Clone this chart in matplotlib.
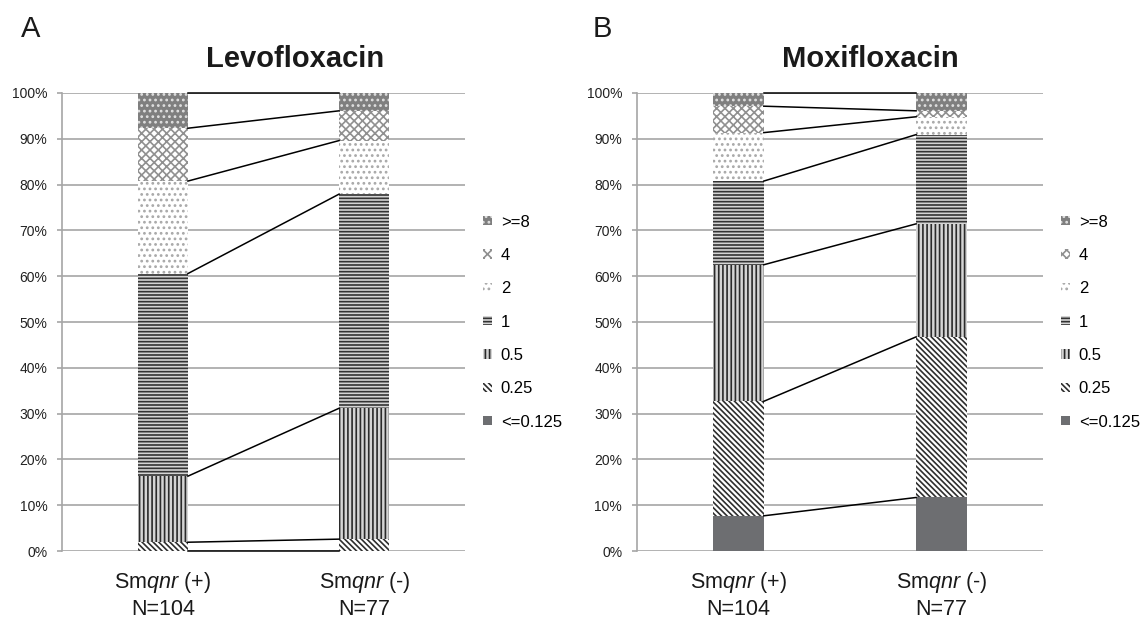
import matplotlib
matplotlib.use("Agg")
import matplotlib.pyplot as plt
import numpy as np

plt.rcParams['font.family'] = ['Liberation Sans', 'DejaVu Sans']
plt.rcParams['mathtext.fontset'] = 'custom'
plt.rcParams['mathtext.rm'] = 'Liberation Sans'
plt.rcParams['mathtext.it'] = 'Liberation Sans:italic'
plt.rcParams['hatch.linewidth'] = 1.2

# MIC categories, bottom to top
mic_levels = ['<=0.125', '0.25', '0.5', '1', '2', '4', '>=8']
group_labels = ['Sm$\\it{qnr}$ (+)\nN=104', 'Sm$\\it{qnr}$ (-)\nN=77']
group_n = [104, 77]

# isolate counts per MIC level
levo_pos = [0, 2, 15, 46, 21, 12, 8]
levo_neg = [0, 2, 22, 36, 9, 5, 3]
moxi_pos = [8, 26, 31, 19, 11, 6, 3]
moxi_neg = [9, 27, 19, 15, 3, 1, 3]

pct_ticks = [0, 10, 20, 30, 40, 50, 60, 70, 80, 90, 100]

styles = [
    dict(facecolor='#6d6e71', edgecolor='#6d6e71', hatch=None),
    dict(facecolor='white', edgecolor='#2e2e2e', hatch='\\\\\\\\\\\\'),
    dict(facecolor='#d4d4d4', edgecolor='#2a2a2a', hatch='||||'),
    dict(facecolor='#d4d4d4', edgecolor='#333333', hatch='-----'),
    dict(facecolor='white', edgecolor='#a8a8a8', hatch='...'),
    dict(facecolor='white', edgecolor='#909090', hatch='xxxx'),
    dict(facecolor='#7f7f7f', edgecolor='#e0e0e0', hatch='...'),
]


def draw_panel(ax, pos_counts, neg_counts):
    pos_pct = np.array(pos_counts) / group_n[0] * 100
    neg_pct = np.array(neg_counts) / group_n[1] * 100
    x = np.arange(len(group_labels))
    w = 0.25
    bottoms = np.zeros(2)
    for i, lvl in enumerate(mic_levels):
        vals = np.array([pos_pct[i], neg_pct[i]])
        ax.bar(x, vals, w, bottom=bottoms, linewidth=0, zorder=2, label=lvl, **styles[i])
        bottoms = bottoms + vals
        # series line between the two stacks
        ax.plot([x[0] + w / 2, x[1] - w / 2], bottoms, color='black', lw=1.1,
                zorder=3, clip_on=False)

    ax.set_xlim(-0.5, 1.5)
    ax.set_ylim(0, 100)
    ax.set_yticks(pct_ticks)
    ax.set_yticklabels([f'{t}%' for t in pct_ticks])
    ax.set_xticks(x)
    ax.set_xticklabels(group_labels, fontsize=15.5)
    ax.set_axisbelow(True)
    ax.yaxis.grid(True, color='#a6a6a6', lw=1.2)
    for s in ['top', 'right', 'bottom']:
        ax.spines[s].set_visible(False)
    ax.spines['left'].set_color('#a6a6a6')
    ax.spines['left'].set_linewidth(1.2)
    ax.tick_params(axis='y', length=3.6, width=1.2, color='#a6a6a6', pad=7,
                   labelsize=10, labelcolor='#222222')
    ax.tick_params(axis='x', length=0, pad=14, labelcolor='#1a1a1a')

    h, l = ax.get_legend_handles_labels()
    ax.legend(h[::-1], l[::-1], loc='center left', bbox_to_anchor=(1.045, 0.5),
              frameon=False, fontsize=12, handlelength=0.5, handleheight=0.5,
              handletextpad=0.55, labelspacing=1.1, borderpad=0, borderaxespad=0)


fig = plt.figure(figsize=(11.46, 6.19), dpi=100)
ax_a = fig.add_axes([0.0541, 0.1098, 0.3517, 0.74])
ax_b = fig.add_axes([0.5558, 0.1098, 0.3543, 0.74])

draw_panel(ax_a, levo_pos, levo_neg)
draw_panel(ax_b, moxi_pos, moxi_neg)

fig.text(0.2574, 0.8918, 'Levofloxacin', fontsize=21, fontweight='bold',
         ha='center', va='baseline', color='#1a1a1a')
fig.text(0.7592, 0.8918, 'Moxifloxacin', fontsize=21, fontweight='bold',
         ha='center', va='baseline', color='#1a1a1a')
fig.text(0.0183, 0.9402, 'A', fontsize=21, ha='left', va='baseline', color='#1a1a1a')
fig.text(0.5175, 0.9402, 'B', fontsize=21, ha='left', va='baseline', color='#1a1a1a')

fig.savefig('out.png', dpi=100)
